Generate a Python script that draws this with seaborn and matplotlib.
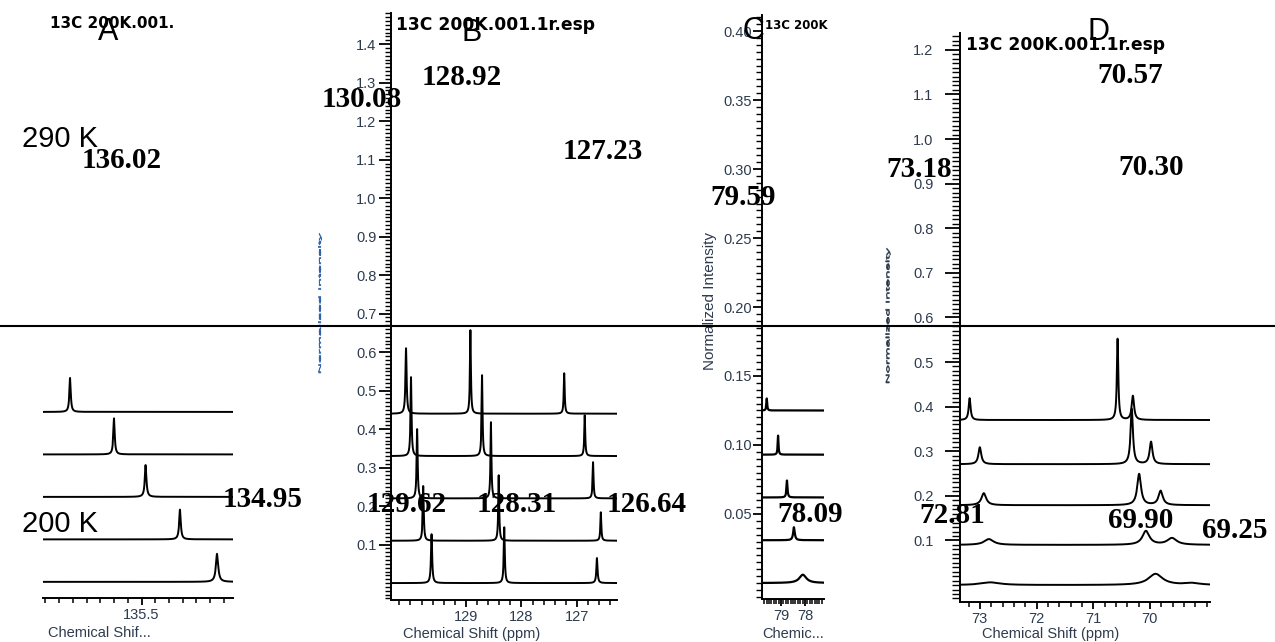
import numpy as np
import pandas as pd
import matplotlib
matplotlib.use("Agg")
import matplotlib.pyplot as plt
import matplotlib.transforms as mtransforms
import seaborn as sns
from matplotlib.ticker import FixedLocator, MultipleLocator, FormatStrFormatter, NullFormatter
from matplotlib.textpath import TextPath
from matplotlib.patches import PathPatch
from matplotlib.font_manager import FontProperties
from matplotlib.lines import Line2D

# ---------------- spectra (top trace = 290 K, bottom trace = 200 K) ----------------
# Panel A: one aromatic carbon
a_shift = [136.02, 135.70, 135.47, 135.22, 134.95]
a_height = [0.080, 0.085, 0.075, 0.070, 0.066]
a_width = [0.012, 0.012, 0.014, 0.014, 0.020]
a_offset = [0.40, 0.30, 0.20, 0.10, 0.00]

# Panel B: three aromatic CH carbons
b_shift = [[130.08, 128.92, 127.23],
           [129.99, 128.71, 126.86],
           [129.88, 128.55, 126.71],
           [129.77, 128.41, 126.57],
           [129.62, 128.31, 126.64]]
b_height = [[0.170, 0.217, 0.105],
            [0.205, 0.210, 0.106],
            [0.180, 0.198, 0.094],
            [0.142, 0.170, 0.074],
            [0.127, 0.145, 0.065]]
b_width = [[0.025, 0.020, 0.020],
           [0.022, 0.020, 0.020],
           [0.022, 0.020, 0.020],
           [0.022, 0.020, 0.020],
           [0.025, 0.022, 0.025]]
b_offset = [0.44, 0.33, 0.22, 0.11, 0.00]

# Panel C: one aliphatic carbon
c_shift = [79.59, 79.12, 78.75, 78.46, 78.09]
c_height = [0.0087, 0.0138, 0.0123, 0.0094, 0.0060]
c_width = [0.04, 0.04, 0.05, 0.08, 0.35]
c_offset = [0.125, 0.093, 0.062, 0.031, 0.000]

# Panel D: three aliphatic carbons
d_shift = [[73.18, 70.57, 70.30],
           [73.00, 70.32, 69.98],
           [72.93, 70.19, 69.81],
           [72.84, 70.07, 69.61],
           [72.81, 69.90, 69.25]]
d_height = [[0.049, 0.182, 0.054],
            [0.038, 0.124, 0.050],
            [0.027, 0.070, 0.032],
            [0.013, 0.031, 0.015],
            [0.006, 0.025, 0.004]]
d_width = [[0.04, 0.03, 0.05],
           [0.06, 0.05, 0.06],
           [0.10, 0.08, 0.09],
           [0.20, 0.15, 0.20],
           [0.40, 0.30, 0.30]]
d_offset = [0.370, 0.271, 0.179, 0.090, 0.000]

# tick values
a_xticks = [135.5]
b_xticks = [129, 128, 127]
c_xticks = [79, 78]
d_xticks = [73, 72, 71, 70]
b_yticks = [0.1, 0.2, 0.3, 0.4, 0.5, 0.6, 0.7, 0.8, 0.9, 1.0, 1.1, 1.2, 1.3, 1.4]
c_yticks = [0.05, 0.10, 0.15, 0.20, 0.25, 0.30, 0.35, 0.40]
d_yticks = [0.1, 0.2, 0.3, 0.4, 0.5, 0.6, 0.7, 0.8, 0.9, 1.0, 1.1, 1.2]

# peak annotations (text, x px, baseline px)
peak_labels = [
    ("136.02", 122, 168), ("134.95", 263, 507),
    ("130.08", 362, 107), ("128.92", 462, 85), ("127.23", 603, 159),
    ("129.62", 407, 512), ("128.31", 517, 512), ("126.64", 647, 512),
    ("79.59", 743, 205), ("78.09", 810, 522),
    ("73.18", 919, 177), ("70.57", 1130, 83), ("70.30", 1151, 175),
    ("72.81", 952, 523), ("69.90", 1141, 528), ("69.25", 1235, 538),
]

W, H = 1275, 642
TICK_COLOR = "#2e3b4e"

sns.set_style("white")
plt.rcParams["font.family"] = ["Liberation Sans", "DejaVu Sans"]

fig = plt.figure(figsize=(W / 100, H / 100), dpi=100)


def px_axes(left, top, right, bottom):
    return fig.add_axes([left / W, 1 - bottom / H, (right - left) / W, (bottom - top) / H])


def spectrum_frame(lo, hi, shifts, heights, widths, offsets, n=6000):
    peaks = np.concatenate([np.atleast_1d(s) for s in shifts])
    grid = np.union1d(np.linspace(lo, hi, n), peaks)
    frames = []
    for k, (pos, amp, fw, off) in enumerate(zip(shifts, heights, widths, offsets)):
        y = np.full_like(grid, off, dtype=float)
        for p, a, w in zip(np.atleast_1d(pos), np.atleast_1d(amp), np.atleast_1d(fw)):
            hw = w / 2.0
            y = y + a * hw ** 2 / ((grid - p) ** 2 + hw ** 2)
        frames.append(pd.DataFrame({"shift": grid, "intensity": y, "trace": k}))
    return pd.concat(frames, ignore_index=True)


def draw_panel(ax, xlim, ylim, shifts, heights, widths, offsets, lw=1.4):
    df = spectrum_frame(min(xlim), max(xlim), shifts, heights, widths, offsets)
    sns.lineplot(data=df, x="shift", y="intensity", units="trace", estimator=None,
                 color="black", lw=lw, ax=ax, legend=False, sort=False)
    ax.set_xlim(*xlim)
    ax.set_ylim(*ylim)
    for side in ("top", "right"):
        ax.spines[side].set_visible(False)
    for side in ("left", "bottom"):
        ax.spines[side].set_linewidth(1.4)
        ax.spines[side].set_color("black")
    ax.set_facecolor("none")
    ax.set_xlabel("")
    ax.set_ylabel("")


axA = px_axes(43, 13, 233, 598)
axB = px_axes(391, 13, 617, 600)
axC = px_axes(762, 15, 824, 599)
axD = px_axes(960, 33, 1210, 602)

draw_panel(axA, (136.217, 134.834), (-0.038, 1.339), a_shift, a_height, a_width, a_offset)
draw_panel(axB, (130.351, 126.279), (-0.044, 1.481), b_shift, b_height, b_width, b_offset)
draw_panel(axC, (79.79, 77.21), (-0.0116, 0.4116), c_shift, c_height, c_width, c_offset, lw=1.6)
draw_panel(axD, (73.35, 68.94), (-0.038, 1.2377), d_shift, d_height, d_width, d_offset)

# ---- x axes
for ax, ticks, minor in ((axA, a_xticks, 0.1), (axB, b_xticks, 0.2),
                         (axC, c_xticks, 0.1), (axD, d_xticks, 0.2)):
    ax.xaxis.set_major_locator(FixedLocator(ticks))
    ax.xaxis.set_minor_locator(MultipleLocator(minor))
    ax.xaxis.set_major_formatter(FormatStrFormatter("%g"))
    ax.tick_params(axis="x", which="major", direction="out", length=5, width=1.3,
                   color="black", labelsize=10.5, labelcolor=TICK_COLOR, pad=2, bottom=True)
    ax.tick_params(axis="x", which="minor", direction="out", length=3.5, width=1.1,
                   color="black", bottom=True)

# ---- y axes
axA.spines["left"].set_visible(False)
axA.set_yticks([])

for ax, ticks, minor, fmt, maj_len, min_len, pad in (
        (axB, b_yticks, 0.01, "%.1f", 9, 4.5, 1.5),
        (axC, c_yticks, 0.005, "%.2f", 6.5, 4.0, 1.0),
        (axD, d_yticks, 0.01, "%.1f", 10.5, 5.5, 8.5)):
    ax.yaxis.set_major_locator(FixedLocator(ticks))
    ax.yaxis.set_minor_locator(MultipleLocator(minor))
    ax.yaxis.set_major_formatter(FormatStrFormatter(fmt))
    ax.yaxis.set_minor_formatter(NullFormatter())
    ax.tick_params(axis="y", which="major", direction="out", length=maj_len, width=1.3,
                   color="black", labelsize=10.5, labelcolor=TICK_COLOR, pad=pad, left=True)
    ax.tick_params(axis="y", which="minor", direction="out", length=min_len, width=1.0,
                   color="black", left=True)

# ---- axis labels
def place_xlabel(ax, text, cx, cy, left, right, top, bottom):
    ax.set_xlabel(text, fontsize=10.5, color=TICK_COLOR, ha="center", va="center")
    ax.xaxis.set_label_coords((cx - left) / (right - left), (bottom - cy) / (bottom - top))

place_xlabel(axA, "Chemical Shif...", 99, 633, 43, 233, 13, 598)
place_xlabel(axB, "Chemical Shift (ppm)", 472, 634, 391, 617, 13, 600)
place_xlabel(axC, "Chemic...", 793, 634, 762, 824, 15, 599)
place_xlabel(axD, "Chemical Shift (ppm)", 1051, 634, 960, 1210, 33, 602)

axC.set_ylabel("Normalized Intensity", fontsize=11, color=TICK_COLOR, ha="center", va="center")
axC.yaxis.set_label_coords((710 - 762) / 62, (599 - 301) / 584)


def squeezed_label(text, cx, y_top, y_bottom, thick, color, alpha=1.0):
    """Vertical label compressed to a thin strip (pixel coordinates)."""
    tp = TextPath((0, 0), text, size=1, prop=FontProperties(family="Liberation Sans"))
    ext = tp.get_extents()
    tr = (mtransforms.Affine2D()
          .translate(-ext.x0, -ext.y0)
          .scale((y_bottom - y_top) / ext.width, thick / ext.height)
          .rotate_deg(90)
          .translate(cx + thick / 2, H - y_bottom)
          .scale(1 / 100.0) + fig.dpi_scale_trans)
    fig.add_artist(PathPatch(tp, transform=tr, facecolor=color, edgecolor=color,
                             lw=0.4, alpha=alpha, zorder=5))

squeezed_label("Normalized Intensity", 320, 233, 373, 3.0, "#2f62a8", 1.0)
squeezed_label("Normalized Intensity", 888, 248, 383, 4.5, "#2c384a", 1.0)

# ---- titles and panel letters
def ftext(x, y, s, **kw):
    fig.text(x / W, 1 - y / H, s, **kw)

title_kw = dict(family="DejaVu Sans", weight="bold", color="black", ha="left", va="baseline")
ftext(50, 28, "13C 200K.001.", fontsize=11, **title_kw)
ftext(396, 30, "13C 200K.001.1r.esp", fontsize=12.3, **title_kw)
ftext(765, 29, "13C 200K", fontsize=8.5, **title_kw)
ftext(966, 50, "13C 200K.001.1r.esp", fontsize=12.3, **title_kw)

for letter, x, y in (("A", 108, 40), ("B", 472, 41), ("C", 753, 39), ("D", 1099, 40)):
    ftext(x, y, letter, fontsize=22, ha="center", va="baseline", color="black")

ftext(22, 147, "290 K", fontsize=21, ha="left", va="baseline", color="black")
ftext(22, 532, "200 K", fontsize=21, ha="left", va="baseline", color="black")

for s, x, y in peak_labels:
    ftext(x, y, s, family="Liberation Serif", weight="bold", fontsize=21,
          ha="center", va="baseline", color="black", zorder=6)

# separator between the two temperatures
fig.add_artist(Line2D([0, 1], [1 - 326 / H, 1 - 326 / H], transform=fig.transFigure,
                      color="black", lw=1.5, zorder=10))

fig.savefig("out.png", dpi=100, facecolor="white")
